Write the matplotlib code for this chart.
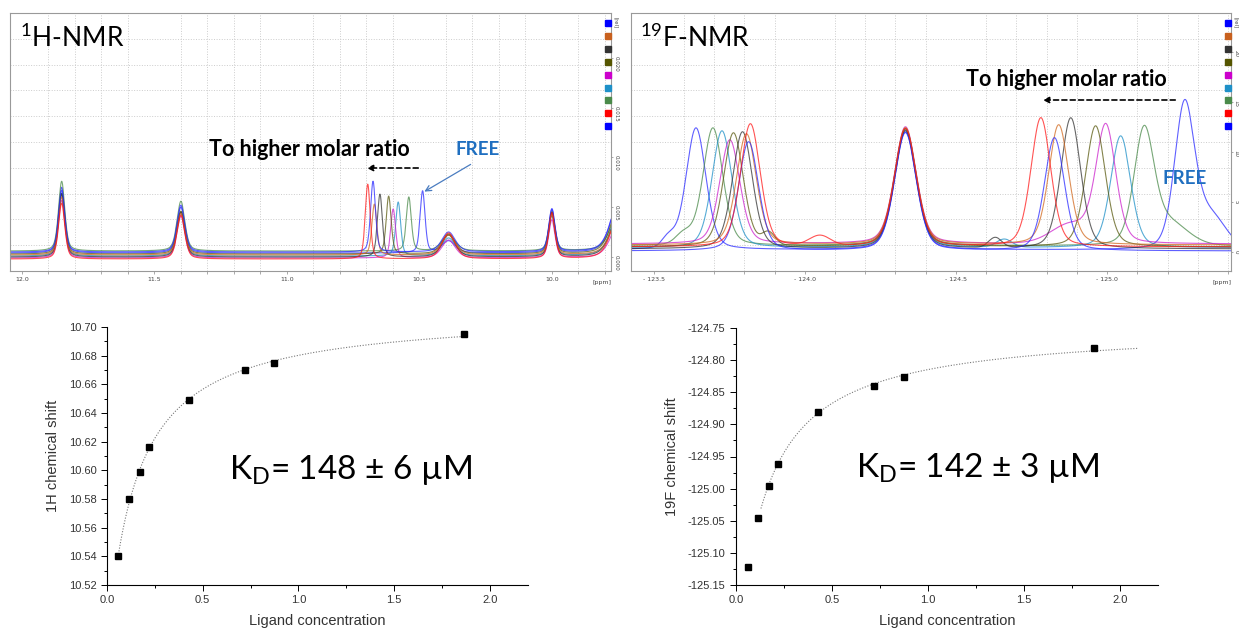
import numpy as np
import matplotlib.pyplot as plt
from matplotlib.ticker import MultipleLocator, FuncFormatter

W, H = 1239, 630
plt.rcParams['axes.unicode_minus'] = False

# titration data (bottom panels)
conc = [0.06, 0.115, 0.17, 0.22, 0.43, 0.72, 0.875, 1.865]
h_shift = [10.540, 10.580, 10.599, 10.616, 10.649, 10.670, 10.675, 10.695]
f_shift = [-125.122, -125.045, -124.996, -124.962, -124.880, -124.840, -124.826, -124.781]
h_kd, f_kd = 0.148, 0.142
h_fit_span = (0.06, 1.87)
f_fit_span = (0.13, 2.10)

# spectra, traces ordered: FREE, then increasing ligand
trace_colors = ['#2a2aff', '#4a8a4a', '#1e90c8', '#cc22cc', '#5a5a10',
                '#333333', '#d2691e', '#2a2aff', '#ff1a1a']
legend_colors = ['#0000ff', '#c8601e', '#333333', '#555500', '#cc00cc',
                 '#1e90c8', '#4a8a4a', '#ff0000', '#0000ff']

# 1H spectrum
h_free = 10.488
h_moving_height = [0.0062, 0.0054, 0.0054, 0.0049, 0.0058, 0.0063, 0.0051, 0.0071, 0.0075]
h_base = [0.0004, 0.0006, 0.0001, -0.0001, 0.0003, 0.0000, 0.0002, 0.0005, -0.0002]
h_fixed_pos = [11.85, 11.40, 10.39, 10.00, 9.74]
h_fixed_width = [0.028, 0.035, 0.06, 0.028, 0.08]
h_fixed_height = [
    [0.0066, 0.0070, 0.0063, 0.0058, 0.0060, 0.0064, 0.0058, 0.0062, 0.0056],
    [0.0046, 0.0050, 0.0044, 0.0042, 0.0043, 0.0045, 0.0042, 0.0047, 0.0044],
    [0.0012, 0.0016, 0.0018, 0.0018, 0.0020, 0.0022, 0.0020, 0.0020, 0.0026],
    [0.0043, 0.0038, 0.0040, 0.0038, 0.0042, 0.0044, 0.0040, 0.0043, 0.0046],
    [0.0060, 0.0045, 0.0050, 0.0040, 0.0055, 0.0050, 0.0045, 0.0060, 0.0050],
]

# 19F spectrum
f_free = -125.256
f_right_height = [14.2, 11.0, 11.2, 11.7, 12.1, 13.1, 12.0, 11.3, 12.9]
f_left_pos = [-123.640, -123.696, -123.726, -123.752, -123.764,
              -123.794, -123.807, -123.814, -123.820]
f_left_height = [12.2, 11.8, 11.7, 10.4, 11.4, 11.7, 11.1, 10.9, 12.3]
f_mid_pos = -124.333
f_mid_height = [11.8, 11.7, 11.8, 11.7, 11.8, 11.8, 11.7, 11.8, 11.8]
f_base = [0.2, 0.6, 0.4, 0.8, 0.5, 0.3, 0.7, 0.1, 0.5]
# extra small features: trace, position, height, width
f_extra = [(0, -125.34, 3.2, 0.12), (1, -125.20, 2.2, 0.15), (3, -124.88, 1.8, 0.15),
           (0, -123.55, 1.0, 0.05), (1, -123.60, 1.0, 0.06), (4, -123.88, 1.2, 0.05),
           (8, -124.05, 1.0, 0.08), (5, -124.63, 1.0, 0.05), (2, -124.66, 0.8, 0.06)]


def peak(x, pos, height, width, eta=0.3):
    g = np.exp(-4 * np.log(2) * ((x - pos) / width) ** 2)
    lo = 1 / (1 + 4 * ((x - pos) / width) ** 2)
    return height * ((1 - eta) * g + eta * lo)


def fig_box(left, top, right, bottom):
    return [left / W, 1 - bottom / H, (right - left) / W, (bottom - top) / H]


def fpx(x, y):
    return (x / W, 1 - y / H)


def spectrum_frame(ax, major, minor, fmt, yticks, yfmt):
    for s in ax.spines.values():
        s.set_color('#999999')
        s.set_linewidth(0.8)
    ax.xaxis.set_major_locator(MultipleLocator(major))
    ax.xaxis.set_minor_locator(MultipleLocator(minor))
    ax.xaxis.set_major_formatter(FuncFormatter(fmt))
    ax.tick_params(axis='x', which='both', length=2, width=0.5, colors='#888888',
                   labelsize=4.5, labelcolor='#444444', pad=2)
    ax.grid(axis='x', which='minor', color='#cccccc', ls=':', lw=0.7)
    for k in range(1, 10):
        ax.plot([0, 1], [k / 10, k / 10], transform=ax.transAxes,
                color='#cccccc', ls=':', lw=0.7, zorder=0)
    ax.yaxis.tick_right()
    ax.set_yticks(yticks)
    ax.yaxis.set_major_formatter(FuncFormatter(yfmt))
    ax.tick_params(axis='y', which='both', length=1.5, width=0.5, colors='#888888',
                   labelsize=4, labelcolor='#444444', pad=0.5, labelrotation=-90)
    ax.text(1.003, 0.985, '[rel]', transform=ax.transAxes, fontsize=3.8, rotation=-90,
            va='top', ha='left', color='#444444')
    ax.text(0.985, -0.035, '[ppm]', transform=ax.transAxes, fontsize=4.5,
            va='top', ha='center', color='#444444')
    for i, c in enumerate(legend_colors):
        ax.plot(0.995, 0.961 - i * 0.05, 's', color=c, ms=3.8,
                transform=ax.transAxes, clip_on=False, zorder=5)


fig = plt.figure(figsize=(W / 100, H / 100), dpi=100)

# ---------------- 1H spectrum ----------------
ax1 = fig.add_axes(fig_box(10, 13, 611, 271))
hx = np.linspace(9.777, 12.045, 3000)
h_pos = [h_free] + h_shift
for i, c in enumerate(trace_colors):
    y = np.full_like(hx, h_base[i])
    y += peak(hx, h_pos[i], h_moving_height[i], 0.022, 0.4)
    for j, p in enumerate(h_fixed_pos):
        y += peak(hx, p, h_fixed_height[j][i], h_fixed_width[j], 0.45)
    ax1.plot(hx, y, color=c, lw=0.8, alpha=0.75)
ax1.set_ylim(-0.0014, 0.0245)
spectrum_frame(ax1, 0.5, 0.1, lambda v, p: f'{v:.1f}',
               [0, 0.005, 0.010, 0.015, 0.020], lambda v, p: f'{v:.3f}')
ax1.set_xlim(12.045, 9.777)

fig.text(*fpx(20, 38), r'$\mathregular{^1}$H-NMR', fontsize=19, family='Lato',
         va='center', ha='left')
fig.text(*fpx(309, 149), 'To higher molar ratio', fontsize=15.5, family='Lato',
         weight='bold', va='center', ha='center')
fig.text(*fpx(478, 149), 'FREE', fontsize=13.5, family='Lato', weight='bold',
         color='#1f6fc0', va='center', ha='center')
ax1.annotate('', xy=fpx(364, 168), xytext=fpx(421, 168), xycoords='figure fraction',
             textcoords='figure fraction',
             arrowprops=dict(arrowstyle='-|>', color='black', lw=1.2,
                             linestyle=(0, (3, 2)), mutation_scale=9))
ax1.annotate('', xy=fpx(422, 193), xytext=fpx(473, 163), xycoords='figure fraction',
             textcoords='figure fraction',
             arrowprops=dict(arrowstyle='->', color='#4a7cc0', lw=0.9, mutation_scale=10))

# ---------------- 19F spectrum ----------------
ax2 = fig.add_axes(fig_box(631, 13, 1231, 271))
fx = np.linspace(-125.41, -123.425, 3000)
f_pos = [f_free] + f_shift
for i, c in enumerate(trace_colors):
    y = np.full_like(fx, f_base[i])
    y += peak(fx, f_pos[i], f_right_height[i], 0.078)
    y += peak(fx, f_left_pos[i], f_left_height[i], 0.078)
    y += peak(fx, f_mid_pos, f_mid_height[i], 0.085)
    for t, p, hgt, w in f_extra:
        if t == i:
            y += peak(fx, p, hgt, w, 0.0)
    ax2.plot(fx, y, color=c, lw=0.8, alpha=0.75)
ax2.set_ylim(-1.9, 23.9)
spectrum_frame(ax2, 0.5, 0.1, lambda v, p: f'- {abs(v):.1f}',
               [0, 5, 10, 15, 20], lambda v, p: f'{v:.0f}')
ax2.set_xlim(-123.425, -125.41)

fig.text(*fpx(640, 38), r'$\mathregular{^{19}}$F-NMR', fontsize=19, family='Lato',
         va='center', ha='left')
fig.text(*fpx(1066, 79), 'To higher molar ratio', fontsize=15.5, family='Lato',
         weight='bold', va='center', ha='center')
fig.text(*fpx(1185, 178), 'FREE', fontsize=13.5, family='Lato', weight='bold',
         color='#1f6fc0', va='center', ha='center')
ax2.annotate('', xy=fpx(1040, 100), xytext=fpx(1178, 100), xycoords='figure fraction',
             textcoords='figure fraction',
             arrowprops=dict(arrowstyle='-|>', color='black', lw=1.2,
                             linestyle=(0, (3, 2)), mutation_scale=9))


# ---------------- titration plots ----------------
def titration(ax, shifts, kd, span, fit_points, ylim, ymajor, yminor, ylabel, yfmt):
    x = np.array(conc)
    yv = np.array(shifts)
    xs, ys = x[fit_points], yv[fit_points]
    A = np.column_stack([np.ones_like(xs), xs / (kd + xs)])
    (d0, dmax), *_ = np.linalg.lstsq(A, ys, rcond=None)
    xf = np.linspace(span[0], span[1], 300)
    ax.plot(xf, d0 + dmax * xf / (kd + xf), color='#777777', lw=0.8, ls=(0, (1, 1.5)))
    ax.plot(x, yv, 's', color='black', ms=4.5, clip_on=False)
    ax.set_xlim(0, 2.2)
    ax.set_ylim(*ylim)
    ax.spines['top'].set_visible(False)
    ax.spines['right'].set_visible(False)
    for s in ('left', 'bottom'):
        ax.spines[s].set_linewidth(0.8)
    ax.xaxis.set_major_locator(MultipleLocator(0.5))
    ax.xaxis.set_minor_locator(MultipleLocator(0.25))
    ax.yaxis.set_major_locator(MultipleLocator(ymajor))
    ax.yaxis.set_minor_locator(MultipleLocator(yminor))
    ax.xaxis.set_major_formatter(FuncFormatter(lambda v, p: f'{v:.1f}'))
    ax.yaxis.set_major_formatter(FuncFormatter(yfmt))
    ax.tick_params(which='major', length=4, width=0.7, labelsize=8, labelcolor='#333333')
    ax.tick_params(which='minor', length=2, width=0.7)
    for lab in ax.get_xticklabels() + ax.get_yticklabels():
        lab.set_family('Liberation Sans')
    ax.set_xlabel('Ligand concentration', family='Liberation Sans', fontsize=10.5,
                  color='#333333', labelpad=6)
    ax.set_ylabel(ylabel, family='Liberation Sans', fontsize=10.5, color='#333333',
                  labelpad=6)


ax3 = fig.add_axes(fig_box(107, 327, 528, 585))
titration(ax3, h_shift, h_kd, h_fit_span, slice(0, None), (10.52, 10.70), 0.02, 0.01,
          '1H chemical shift', lambda v, p: f'{v:.2f}')
fig.text(*fpx(350, 470), r'K$\mathregular{_D}$= 148 ± 6 µM', fontsize=24,
         family='Lato', va='center', ha='center')

ax4 = fig.add_axes(fig_box(736, 328, 1158, 585))
titration(ax4, f_shift, f_kd, f_fit_span, slice(1, None), (-125.15, -124.75), 0.05, 0.025,
          '19F chemical shift', lambda v, p: f'{v:.2f}')
fig.text(*fpx(977, 468), r'K$\mathregular{_D}$= 142 ± 3 µM', fontsize=24,
         family='Lato', va='center', ha='center')

fig.savefig('out.png', dpi=100)
